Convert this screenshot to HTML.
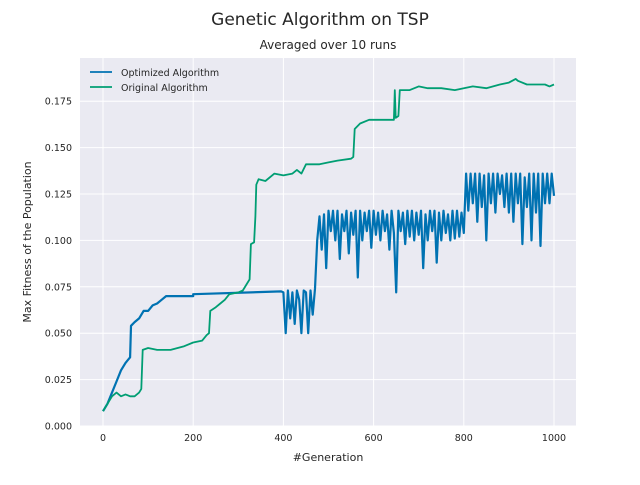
<!DOCTYPE html>
<html><head><meta charset="utf-8"><style>
body{margin:0;background:#fff;}
svg text{font-family:"DejaVu Sans","Liberation Sans",sans-serif;fill:#262626;}
</style></head><body>
<svg id="chart" width="640" height="480">
<text x="320" y="25" font-size="17" text-anchor="middle">Genetic Algorithm on TSP</text>
<text x="328" y="49" font-size="12" text-anchor="middle">Averaged over 10 runs</text>
<rect x="80" y="58" width="496" height="368" fill="#EAEAF2"/>
<g id="grid"></g>
<g id="ticks"></g>
<g id="series"></g>
<text x="328" y="461" font-size="11" text-anchor="middle">#Generation</text>
<text x="0" y="0" font-size="11" text-anchor="middle" transform="translate(31,242) rotate(-90)">Max Fitness of the Population</text>
<g>
<line x1="90" y1="72" x2="112" y2="72" stroke="#0072B2" stroke-width="1.8"/>
<text x="121" y="76" font-size="9.5">Optimized Algorithm</text>
<line x1="90" y1="87" x2="112" y2="87" stroke="#009E73" stroke-width="1.8"/>
<text x="121" y="91" font-size="9.5">Original Algorithm</text>
</g>
</svg>
<script>
const xTicks=[0,200,400,600,800,1000];
const yTicks=[0,0.025,0.05,0.075,0.1,0.125,0.15,0.175];
const yTickLabels=["0.000","0.025","0.050","0.075","0.100","0.125","0.150","0.175"];
const blueGenHead=[0,10,20,30,40,50,60,62,70,80,90,100,110,120,130,140,200,200,395];
const blueValHead=[0.008,0.012,0.018,0.024,0.03,0.034,0.037,0.054,0.056,0.058,0.062,0.062,0.065,0.066,0.068,0.070,0.070,0.071,0.0725];
const blueNoisyStart=400;
const blueNoisyStep=5;
const blueNoisyVal=[0.072,0.05,0.073,0.058,0.072,0.055,0.073,0.068,0.05,0.073,0.072,0.05,0.073,0.06,
0.074,0.1,0.113,0.095,0.114,0.085,0.116,0.105,0.116,0.1,0.116,0.09,0.114,0.105,0.116,0.093,0.115,0.103,0.116,0.08,0.116,0.1,0.115,0.105,0.116,0.096,0.116,0.103,0.115,0.1,0.116,0.105,0.114,0.095,0.116,0.104,
0.072,0.116,0.105,0.115,0.098,0.116,0.102,0.116,0.1,0.115,0.103,0.116,0.085,0.114,0.1,0.116,0.105,0.116,0.088,0.115,0.1,0.116,0.104,0.114,0.1,0.116,0.101,0.116,0.102,0.115,
0.104,0.136,0.116,0.136,0.12,0.136,0.11,0.136,0.118,0.135,0.1,0.136,0.12,0.136,0.115,0.136,0.125,0.135,0.118,0.136,0.115,0.136,0.11,0.136,0.12,0.136,0.098,0.134,0.118,0.136,0.1,0.136,0.115,0.136,0.097,0.136,0.12,0.136,0.12,0.136,0.124];
const greenGen=[0,20,30,40,50,60,70,80,85,88,100,120,150,180,200,220,230,235,238,250,260,270,280,300,310,320,325,328,335,338,340,345,360,380,400,420,430,440,450,480,500,520,550,555,558,570,590,620,645,647,649,655,658,680,700,720,750,780,800,820,850,880,900,915,920,940,980,990,1000];
const greenVal=[0.008,0.016,0.018,0.016,0.017,0.016,0.016,0.018,0.02,0.041,0.042,0.041,0.041,0.043,0.045,0.046,0.049,0.05,0.062,0.064,0.066,0.068,0.071,0.072,0.073,0.077,0.079,0.098,0.099,0.113,0.13,0.133,0.132,0.136,0.135,0.136,0.138,0.136,0.141,0.141,0.142,0.143,0.144,0.145,0.16,0.163,0.165,0.165,0.165,0.181,0.166,0.167,0.181,0.181,0.183,0.182,0.182,0.181,0.182,0.183,0.182,0.184,0.185,0.187,0.186,0.184,0.184,0.183,0.184];
const X=v=>103+(v/1000)*451;
const Y=v=>426-(v/0.025)*46.4;
const NS="http://www.w3.org/2000/svg";
const grid=document.getElementById('grid'),ticks=document.getElementById('ticks'),series=document.getElementById('series');
function mk(tag,attrs,parent){const e=document.createElementNS(NS,tag);for(const k in attrs)e.setAttribute(k,attrs[k]);parent.appendChild(e);return e;}
xTicks.forEach(t=>{
 const l=mk('line',{x1:X(t),x2:X(t),y1:58,y2:426,stroke:'#fff','stroke-width':1},grid);
 
 
 const tx=mk('text',{x:X(t),y:441,'font-size':9.5,'text-anchor':'middle'},ticks);
 tx.textContent=t;
 
 
});
yTicks.forEach((t,i)=>{
 const l=mk('line',{x1:80,x2:576,y1:Y(t),y2:Y(t),stroke:'#fff','stroke-width':1},grid);
 
 
 const tx=mk('text',{x:72,y:Y(t)+3.5,'font-size':9.5,'text-anchor':'end'},ticks);
 tx.textContent=yTickLabels[i];
 
 
});
const bg=blueGenHead.slice(),bv=blueValHead.slice();
blueNoisyVal.forEach((v,i)=>{bg.push(blueNoisyStart+i*blueNoisyStep);bv.push(v);});
function path(gs,vs,color,name,w){
 const d=gs.map((g,i)=>(i?'L':'M')+X(g).toFixed(1)+','+Y(vs[i]).toFixed(1)).join('');
 const p=mk('path',{d:d,fill:'none',stroke:color,'stroke-width':w,'stroke-linejoin':'round'},series);
 
 
}
path(bg,bv,'#0072B2','optimized-algorithm-line',2.2);
path(greenGen,greenVal,'#009E73','original-algorithm-line',1.8);
</script>
</body></html>
